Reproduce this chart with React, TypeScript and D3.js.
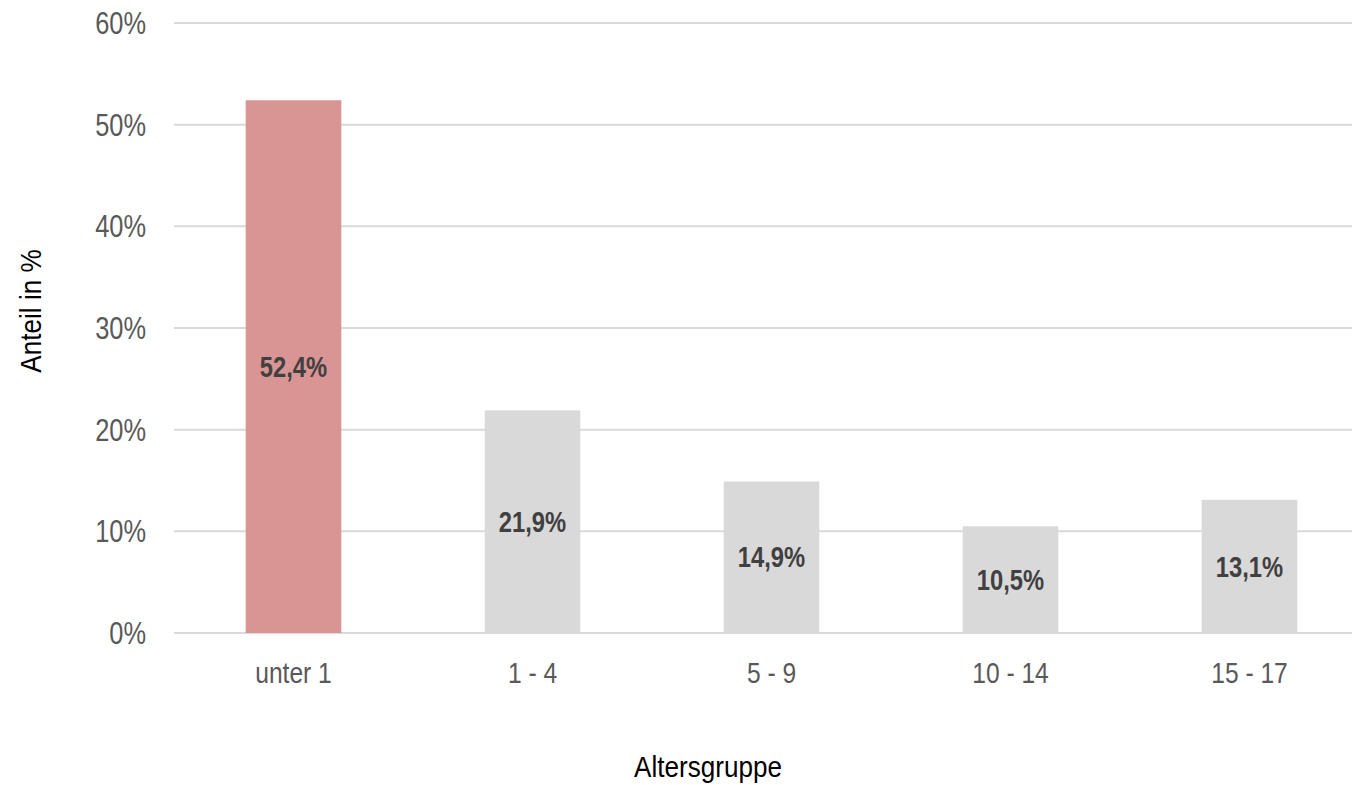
import React from 'react';
import * as d3 from 'd3';

const categories = ['unter 1', '1 - 4', '5 - 9', '10 - 14', '15 - 17'];
const shares = [52.4, 21.9, 14.9, 10.5, 13.1];
const barColors = ['#d99594', '#d9d9d9', '#d9d9d9', '#d9d9d9', '#d9d9d9'];
const yTicks = [0, 10, 20, 30, 40, 50, 60];

const FONT = "'Liberation Sans', Arial, sans-serif";
const NARROW = 0.82;

// Arial Narrow is not installed, so squeeze Liberation Sans horizontally
function NarrowText({ x, y, rotate = 0, squeeze = NARROW, children, ...rest }: any) {
  return (
    <text
      transform={`translate(${x},${y}) rotate(${rotate}) scale(${squeeze},1)`}
      fontFamily={FONT}
      {...rest}
    >
      {children}
    </text>
  );
}

export default function App() {
  const width = 1352;
  const height = 785;
  const margin = { top: 23, left: 174, bottom: 152 };
  const plotRight = 1369;

  const x = d3
    .scaleBand()
    .domain(categories)
    .range([margin.left, plotRight])
    .paddingInner(0.6)
    .paddingOuter(0.3);

  const y = d3
    .scaleLinear()
    .domain([0, 60])
    .range([height - margin.bottom, margin.top]);

  const fmt = (v: number) => v.toFixed(1).replace('.', ',') + '%';

  return (
    <svg
      width={width}
      height={height}
      style={{ position: 'absolute', left: 0, top: 0, background: '#fff' }}
    >
      {/* gridlines */}
      <g>
        {yTicks.map((t) => (
          <line
            key={t}
            x1={margin.left}
            x2={width}
            y1={y(t)}
            y2={y(t)}
            stroke="#d9d9d9"
            strokeWidth={2}
          />
        ))}
      </g>
      {/* y tick labels */}
      <g>
        {yTicks.map((t) => (
          <NarrowText key={t} x={146} y={y(t)} dy="0.35em" fontSize={31} fill="#595959" textAnchor="end">
            {t}%
          </NarrowText>
        ))}
      </g>
      {/* bars */}
      <g>
        {categories.map((c, i) => (
          <rect
            key={c}
            x={x(c)}
            width={x.bandwidth()}
            y={y(shares[i])}
            height={y(0) - y(shares[i])}
            fill={barColors[i]}
          />
        ))}
      </g>
      {/* value labels */}
      <g>
        {categories.map((c, i) => (
          <NarrowText
            key={c}
            x={(x(c) as number) + x.bandwidth() / 2}
            y={(y(shares[i]) + y(0)) / 2}
            dy="0.35em"
            fontSize={29}
            fontWeight="bold"
            fill="#404040"
            textAnchor="middle"
          >
            {fmt(shares[i])}
          </NarrowText>
        ))}
      </g>
      {/* category labels */}
      <g>
        {categories.map((c) => (
          <NarrowText
            key={c}
            x={(x(c) as number) + x.bandwidth() / 2}
            y={683}
            fontSize={30}
            fill="#595959"
            textAnchor="middle"
          >
            {c}
          </NarrowText>
        ))}
      </g>
      {/* axis titles */}
      <NarrowText x={708} y={777} squeeze={0.9} fontSize={29} fill="#000" textAnchor="middle">
        Altersgruppe
      </NarrowText>
      <NarrowText x={41} y={311} rotate={-90} squeeze={0.9} fontSize={29} fill="#000" textAnchor="middle">
        Anteil in %
      </NarrowText>
    </svg>
  );
}
